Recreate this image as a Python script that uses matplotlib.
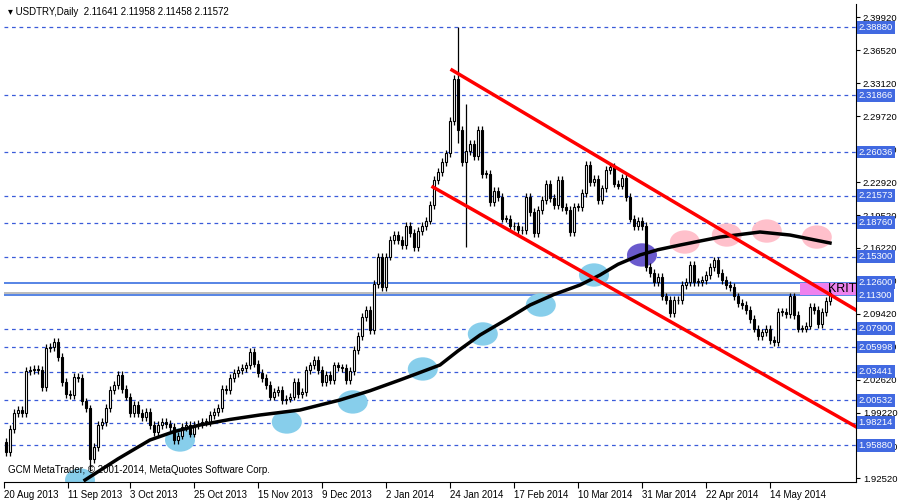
import numpy as np
import matplotlib.pyplot as plt
from matplotlib.patches import Ellipse, Rectangle
from matplotlib.transforms import blended_transform_factory

plt.rcParams["font.family"] = ["Liberation Sans", "DejaVu Sans"]

# daily closes, USDTRY 20 Aug 2013 .. end May 2014
closes = [
    1.952, 1.976, 1.992, 1.995, 1.992, 2.035, 2.036, 2.037, 2.036, 2.019,
    2.059, 2.060, 2.065, 2.050, 2.024, 2.012, 2.011, 2.029, 2.028, 2.004,
    1.997, 1.945, 1.957, 1.980, 1.983, 1.997, 2.016, 2.021, 2.031, 2.017,
    2.009, 1.992, 2.000, 1.992, 1.988, 1.993, 1.980, 1.973, 1.980, 1.983,
    1.981, 1.978, 1.964, 1.969, 1.978, 1.980, 1.971, 1.980, 1.981, 1.983,
    1.983, 1.990, 1.993, 1.997, 2.017, 2.016, 2.028, 2.033, 2.036, 2.038,
    2.041, 2.055, 2.043, 2.033, 2.028, 2.021, 2.009, 2.014, 2.016, 2.005,
    2.007, 2.009, 2.024,
    2.012, 2.014, 2.036, 2.041, 2.047, 2.036, 2.024, 2.031, 2.026, 2.041,
    2.039, 2.038, 2.026, 2.035, 2.057, 2.071, 2.091, 2.098, 2.077, 2.125,
    2.153, 2.122, 2.153, 2.170, 2.175, 2.170, 2.165, 2.184,
    2.177, 2.163, 2.179, 2.184, 2.190, 2.206, 2.232, 2.240, 2.250, 2.259,
    2.292, 2.336, 2.283, 2.250, 2.261, 2.269, 2.256, 2.283, 2.238, 2.238,
    2.209, 2.220, 2.214, 2.192, 2.192, 2.184, 2.184, 2.180, 2.180, 2.214,
    2.199, 2.177, 2.201, 2.211, 2.228, 2.213, 2.206, 2.232, 2.204, 2.201,
    2.178, 2.204, 2.204, 2.218, 2.247, 2.230, 2.233, 2.211, 2.223,
    2.242, 2.245, 2.228, 2.226, 2.234, 2.214, 2.192, 2.184, 2.190, 2.184,
    2.142, 2.136, 2.127, 2.132, 2.112, 2.108, 2.095, 2.108, 2.108, 2.124,
    2.127, 2.144, 2.127, 2.127, 2.129, 2.134, 2.142, 2.149, 2.136, 2.129,
    2.124, 2.122, 2.112, 2.105, 2.103, 2.098, 2.089, 2.079, 2.071, 2.075,
    2.079, 2.067, 2.065, 2.096, 2.096, 2.094, 2.112, 2.093, 2.079, 2.079,
    2.082, 2.101, 2.098, 2.084, 2.096, 2.107, 2.116,
]
first_open = 1.962
wick = 0.004
# notable extreme wicks: bar index -> (high, low)
extremes = {113: (2.3888, 2.270), 115: (2.310, 2.163), 21: (2.000, 1.932)}

levels = [2.38880, 2.31866, 2.26036, 2.21573, 2.18760, 2.15300,
          2.07900, 2.05998, 2.03441, 2.00532, 1.98214, 1.95880]
krit_levels = [2.12600, 2.11300]
last_price = 2.11572

ma_idx = [19.75, 28, 36, 42, 48.5, 56, 63.5, 73.5, 83.5, 91, 98.5, 103, 108.5,
          113, 118.5, 125, 131, 137, 143.5, 148.5, 153, 158.5, 163, 168.5,
          178.5, 188.5, 196, 206]
ma_val = [1.9232, 1.9450, 1.9644, 1.9730, 1.9798, 1.9855, 1.9901, 1.9952,
          2.0055, 2.0150, 2.0261, 2.0330, 2.0415, 2.0560, 2.0723, 2.0880,
          2.1031, 2.1140, 2.1237, 2.1340, 2.1450, 2.1546, 2.1600, 2.1648,
          2.1730, 2.1782, 2.1751, 2.1669]

chan_upper = [(111.5, 2.3447), (212.5, 2.0980)]
chan_lower = [(106.75, 2.2244), (212.5, 1.9780)]

blue_marks = [(18.5, 1.9232), (43.5, 1.9644), (70.2, 1.9829), (86.7, 2.0035),
              (104.2, 2.0374), (119.2, 2.0734), (133.7, 2.1031), (147, 2.1340)]
purple_marks = [(159, 2.1546)]
pink_marks = [(169.7, 2.1679), (180.2, 2.1751), (190.2, 2.1792), (202.7, 2.1730)]

date_idx = [-0.5, 15.5, 31, 47, 63, 79, 95, 111, 127, 143, 159, 175, 191]
date_lbl = ["20 Aug 2013", "11 Sep 2013", "3 Oct 2013", "25 Oct 2013",
            "15 Nov 2013", "9 Dec 2013", "2 Jan 2014", "24 Jan 2014",
            "17 Feb 2014", "10 Mar 2014", "31 Mar 2014", "22 Apr 2014",
            "14 May 2014"]
ytick_vals = [2.39920, 2.36520, 2.33120, 2.29720, 2.26320, 2.22920, 2.19520,
              2.16220, 2.12820, 2.09420, 2.06020, 2.02620, 1.99220, 1.95820,
              1.92520]

fig = plt.figure(figsize=(9, 5), dpi=100)
ax = fig.add_axes([4 / 900, 18 / 500, 852 / 900, 478 / 500])
ax.set_xlim(-0.5, 212.5)
ax.set_ylim(1.9212, 2.4126)

for lv in levels:
    ax.axhline(lv, color="#3A5BD9", lw=0.9, ls=(0, (3, 3)), zorder=1)
for lv in krit_levels:
    ax.axhline(lv, color="#3A6FE0", lw=1.2, zorder=1)
ax.axhline(last_price, color="#B0B0B0", lw=1.2, zorder=1)

# krit box
ax.add_patch(Rectangle((198.5, krit_levels[1]), 14, krit_levels[0] - krit_levels[1],
                       facecolor="#EE82EE", edgecolor="none", zorder=1.5))
ax.text(205.5, 2.1195, "KRIT", fontsize=9, va="center", ha="left", zorder=6)

# ellipses
for xs, c in [(blue_marks, "#87CEEB"), (purple_marks, "#6A5ACD"), (pink_marks, "#FFC0CB")]:
    for (bx, by) in xs:
        ax.add_patch(Ellipse((bx, by), 7.5, 0.024, facecolor=c, edgecolor="none", zorder=2))

# candles
opens = [first_open] + closes[:-1]
for i, (o, c) in enumerate(zip(opens, closes)):
    hi, lo = extremes.get(i, (max(o, c) + wick, min(o, c) - wick))
    ax.vlines(i, lo, hi, color="black", lw=0.9, zorder=3)
    bottom = min(o, c)
    h = max(abs(c - o), 0.0006)
    ax.add_patch(Rectangle((i - 0.35, bottom), 0.7, h,
                           facecolor="white" if c >= o else "black",
                           edgecolor="black", lw=0.8, zorder=4))

ax.plot(ma_idx, ma_val, color="black", lw=2.5, zorder=5)
for ch in (chan_upper, chan_lower):
    ax.plot([p[0] for p in ch], [p[1] for p in ch], color="#FF0000", lw=2.5, zorder=5)

# axes look
for s in ["top", "left"]:
    ax.spines[s].set_visible(False)
for s in ["right", "bottom"]:
    ax.spines[s].set_color("black")
ax.yaxis.tick_right()
ax.set_yticks(ytick_vals)
ax.set_yticklabels([f"{v:.5f}" for v in ytick_vals], fontsize=6.8)
ax.tick_params(axis="y", length=3, pad=2)
ax.set_xticks(date_idx)
ax.set_xticklabels(date_lbl, fontsize=7, ha="left")
ax.tick_params(axis="x", length=4, pad=2)

tr = blended_transform_factory(ax.transAxes, ax.transData)
for lv in levels + krit_levels:
    ax.text(1.003, lv, f"{lv:.5f}", transform=tr, fontsize=6.8, color="white",
            va="center", ha="left", clip_on=False, zorder=10,
            bbox=dict(boxstyle="square,pad=0.2", facecolor="#4169E1", edgecolor="none"))

fig.text(8 / 900, 1 - 12 / 500, "\u25be USDTRY,Daily  2.11641 2.11958 2.11458 2.11572",
         fontsize=7, va="center", ha="left")
ax.text(0.005, 0.018, "GCM MetaTrader, \u00a9 2001-2014, MetaQuotes Software Corp.",
        transform=ax.transAxes, fontsize=7, zorder=7)

fig.savefig("out.png", dpi=100)
